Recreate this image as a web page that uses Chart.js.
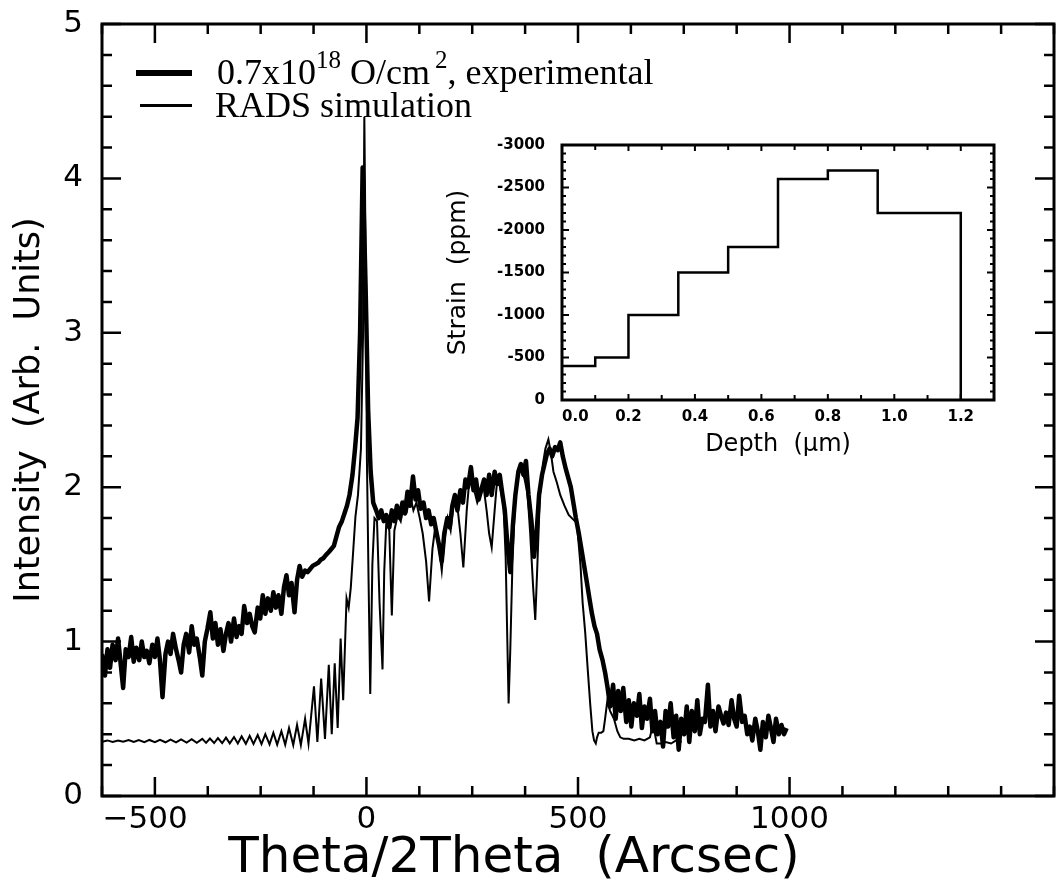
<!DOCTYPE html>
<html>
<head>
<meta charset="utf-8">
<script src="https://cdn.jsdelivr.net/npm/chart.js@4.4.1/dist/chart.umd.min.js"></script>
<style>
  html, body { margin: 0; padding: 0; background: #fff; }
  #wrap { position: relative; width: 1062px; height: 885px; background: #fff; overflow: hidden; }
  #main { position: absolute; left: 0; top: 0; }
  #inset { position: absolute; left: 430px; top: 125px; }
  .legtxt { position: absolute; font-family: 'Liberation Serif', serif; font-size: 36px; line-height: 36px; color: #000; white-space: nowrap; }
  .legtxt .sup { font-size: 25px; position: relative; top: -16px; }
  .legline { position: absolute; background: #000; }
  #xtitle { position: absolute; left: 218px; width: 592px; top: 830px; text-align: center; font-family: 'DejaVu Sans', sans-serif; font-size: 50px; line-height: 50px; color: #000; white-space: pre; }
</style>
</head>
<body>
<div id="wrap">
  <canvas id="main" width="1062" height="885"></canvas>
  <canvas id="inset" width="580" height="340"></canvas>
  <div class="legline" style="left:136px; top:70px; width:56px; height:6px;"></div>
  <div class="legtxt" style="left:217px; top:54px;">0.7x10<span class="sup">18</span> O/cm<span class="sup">&#8201;2</span>, experimental</div>
  <div class="legline" style="left:140px; top:104px; width:52px; height:3px;"></div>
  <div class="legtxt" style="left:215px; top:87px;">RADS simulation</div>
  <div id="xtitle">Theta/2Theta  (Arcsec)</div>
</div>
<script>
// ---------------- data (Theta/2Theta in arcsec, intensity in arb. units) ----------------
const expX = [
  -625,-618,-612,-606,-600,-593,-587,-581,-575,-569,-562,-556,-550,-544,-537,-531,-525,-519,-513,-506,
  -500,-494,-488,-482,-475,-469,-463,-457,-450,-444,-438,-432,-426,-419,-413,-407,-401,-394,-388,-382,
  -376,-369,-363,-357,-351,-345,-338,-332,-326,-320,-313,-307,-301,-295,-289,-282,-276,-270,-264,-257,
  -251,-245,-239,-233,-226,-220,-214,-208,-201,-195,-189,-183,-177,-170,-164,-158,-152,-145,-139,-133,
  -127,-121,-114,-108,-102,-96,-89,-83,-77,-71,-65,-58,-52,-46,-40,-33,-27,-21,-15,-9,
  -2,4,10,16,23,29,35,41,47,54,60,66,72,79,85,91,97,103,110,116,
  122,128,135,141,147,153,159,166,172,178,184,191,197,203,209,215,222,228,234,240,
  247,253,259,265,271,278,284,290,296,303,309,315,321,327,334,340,346,352,359,365,
  371,377,383,390,396,402,408,415,421,427,433,439,446,452,458,464,471,477,483,489,
  495,502,508,514,520,527,533,539,545,551,558,564,570,576,583,589,595,601,607,614,
  620,626,632,639,645,651,657,663,670,676,682,688,695,701,707,713,719,726,732,738,
  744,751,757,763,769,776,782,788,794,800,807,813,819,825,832,838,844,850,856,863,
  869,875,881,888,894,900,906,912,919,925,931,937,944,950,956,962,968,975,981,987,
  993
];
const expY = [
  0.92,0.78,0.95,0.83,0.98,0.88,1.02,0.86,0.70,0.95,0.90,1.03,0.87,0.96,0.88,1.00,0.90,0.94,0.86,0.98,
  0.90,1.02,0.88,0.64,0.92,1.00,0.92,1.05,0.95,0.88,0.80,0.98,1.05,0.93,1.10,0.98,1.02,0.90,0.78,1.00,
  1.08,1.19,1.02,1.12,0.98,1.08,0.94,1.05,1.12,1.00,1.15,1.03,1.10,1.05,1.23,1.12,1.18,1.10,1.06,1.22,
  1.15,1.30,1.18,1.28,1.20,1.32,1.22,1.30,1.18,1.35,1.43,1.30,1.38,1.19,1.40,1.49,1.42,1.46,1.45,1.47,
  1.49,1.50,1.51,1.53,1.54,1.56,1.58,1.60,1.62,1.68,1.74,1.78,1.83,1.88,1.95,2.08,2.25,2.45,3.00,4.07,
  3.30,2.50,2.10,1.90,1.85,1.80,1.85,1.78,1.82,1.74,1.85,1.78,1.88,1.80,1.90,1.83,1.97,1.88,2.07,1.92,
  1.98,1.86,1.90,1.80,1.85,1.76,1.80,1.70,1.62,1.52,1.70,1.80,1.74,1.88,1.95,1.85,1.98,1.90,2.05,2.00,
  2.13,1.98,2.05,1.92,1.98,2.05,1.95,2.08,1.95,2.10,2.02,2.08,1.96,1.85,1.60,1.45,1.75,1.95,2.10,2.15,
  2.08,2.17,1.95,1.78,1.55,1.70,1.95,2.08,2.15,2.22,2.25,2.20,2.26,2.24,2.29,2.20,2.12,2.06,2.00,1.90,
  1.80,1.70,1.60,1.50,1.40,1.28,1.18,1.10,1.05,0.95,0.88,0.80,0.70,0.58,0.72,0.50,0.68,0.55,0.70,0.48,
  0.62,0.45,0.60,0.52,0.66,0.44,0.58,0.50,0.63,0.42,0.55,0.40,0.48,0.32,0.55,0.45,0.60,0.38,0.52,0.30,
  0.50,0.40,0.58,0.35,0.55,0.42,0.62,0.40,0.50,0.48,0.72,0.45,0.55,0.42,0.58,0.52,0.47,0.54,0.46,0.62,
  0.50,0.45,0.65,0.48,0.52,0.40,0.45,0.36,0.50,0.42,0.30,0.48,0.38,0.52,0.44,0.35,0.50,0.40,0.46,0.40,
  0.44
];
const simX = [
  -625,-612,-600,-587,-575,-562,-550,-538,-525,-513,-500,-488,-475,-463,-450,-438,-425,-413,-401,-388,
  -379,-370,-360,-351,-341,-332,-323,-313,-304,-295,-285,-276,-267,-257,-248,-239,-229,-220,-211,-201,-192,-183,-173,-164,-155,-145,
  -137,-124,-116,-107,-98,-89,-82,-75,-68,-61,-55,-47,-42,-37,-31,-26,-20,-13,-8,-5,
  -1,1,5,9,14,19,25,31,38,42,47,54,60,66,74,81,89,96,103,111,
  118,126,133,141,148,156,163,171,178,184,192,199,207,214,222,229,237,245,253,262,
  269,277,284,290,296,303,309,316,324,329,333,336,340,345,351,359,366,374,381,387,
  394,399,404,410,417,423,430,436,442,450,458,468,478,489,497,502,506,511,517,523,
  529,534,538,542,545,549,555,560,564,569,576,585,593,600,608,620,633,645,657,670,
  677,682,686,695,707,720,732,745
];
const simY = [
  0.352,0.360,0.350,0.360,0.351,0.362,0.350,0.362,0.349,0.363,0.349,0.364,0.348,0.365,0.347,0.366,0.346,0.368,0.345,0.370,
  0.344,0.372,0.343,0.375,0.342,0.378,0.341,0.382,0.340,0.386,0.338,0.390,0.337,0.395,0.336,0.400,0.334,0.410,0.333,0.420,0.332,0.440,0.330,0.460,0.330,0.500,
  0.34,0.71,0.35,0.76,0.37,0.85,0.40,0.86,0.44,1.02,0.62,1.28,1.22,1.35,1.60,1.81,1.95,2.25,3.00,4.40,
  3.20,2.20,1.40,0.66,1.50,1.80,1.78,1.25,0.82,1.45,1.78,1.72,1.17,1.72,1.82,1.78,1.90,1.85,1.95,1.85,
  1.90,1.80,1.70,1.52,1.26,1.60,1.75,1.62,1.46,1.65,1.80,1.72,1.92,1.90,1.70,1.48,1.85,2.10,2.00,1.90,
  1.95,2.00,1.85,1.70,1.61,1.85,2.05,2.00,1.88,1.55,1.00,0.60,0.95,1.50,1.90,2.08,2.12,2.05,1.95,1.70,
  1.35,1.14,1.50,1.95,2.15,2.25,2.31,2.22,2.10,2.03,1.95,1.88,1.82,1.79,1.77,1.62,1.49,1.25,1.06,0.82,
  0.59,0.42,0.36,0.34,0.38,0.41,0.41,0.42,0.50,0.61,0.55,0.50,0.42,0.38,0.37,0.37,0.36,0.37,0.36,0.38,
  0.46,0.40,0.34,0.34,0.35,0.34,0.36,0.35
];
const mainXLabels = [-500, 0, 500, 1000];
const mainYLabels = [0, 1, 2, 3, 4, 5];

// ---------------- inset data (depth in um, strain in ppm) ----------------
const depthEdges   = [0, 0.1, 0.2, 0.35, 0.5, 0.65, 0.8, 0.95, 1.2];
const strainValues = [-400, -500, -1000, -1500, -1800, -2600, -2700, -2200, 0];
const insetXLabels = [0, 0.2, 0.4, 0.6, 0.8, 1.0, 1.2];
const insetYLabels = [0, -500, -1000, -1500, -2000, -2500, -3000];

// ---------------- helpers ----------------
function nearIn(v, arr, tol) { return arr.some(a => Math.abs(a - v) < tol); }
function pairs(xs, ys) { return xs.map((x, i) => ({x: x, y: ys[i]})); }

const frameTicks = {
  id: 'frameTicks',
  afterDatasetsDraw(chart, args, o) {
    const ctx = chart.ctx, a = chart.chartArea;
    const xs = chart.scales.x, ys = chart.scales.y;
    ctx.save();
    ctx.strokeStyle = '#000';
    ctx.lineWidth = o.tickWidth;
    ctx.lineCap = 'butt';
    ctx.beginPath();
    xs.ticks.forEach(t => {
      const p = xs.getPixelForValue(t.value);
      const len = nearIn(t.value, o.xMajor, o.xTol) ? o.xLen[0] : o.xLen[1];
      ctx.moveTo(p, a.bottom); ctx.lineTo(p, a.bottom - len);
      ctx.moveTo(p, a.top); ctx.lineTo(p, a.top + len);
    });
    ys.ticks.forEach(t => {
      const p = ys.getPixelForValue(t.value);
      const len = nearIn(t.value, o.yMajor, o.yTol) ? o.yLen[0] : o.yLen[1];
      ctx.moveTo(a.left, p); ctx.lineTo(a.left + len, p);
      ctx.moveTo(a.right, p); ctx.lineTo(a.right - len, p);
    });
    ctx.stroke();
    ctx.lineWidth = o.borderWidth;
    ctx.strokeRect(a.left, a.top, a.right - a.left, a.bottom - a.top);
    ctx.restore();
  }
};

Chart.defaults.color = '#000';
Chart.defaults.font.family = 'DejaVu Sans';

// ---------------- main chart ----------------
new Chart(document.getElementById('main'), {
  type: 'line',
  data: {
    datasets: [
      { label: 'RADS simulation', data: pairs(simX, simY), borderColor: '#000', borderWidth: 2,
        pointRadius: 0, tension: 0, fill: false, borderJoinStyle: 'miter' },
      { label: '0.7x10^18 O/cm^2, experimental', data: pairs(expX, expY), borderColor: '#000', borderWidth: 4.5,
        pointRadius: 0, tension: 0, fill: false, borderJoinStyle: 'round' }
    ]
  },
  options: {
    responsive: false, animation: false, devicePixelRatio: 1,
    layout: { padding: { top: 24, right: 3, left: 0, bottom: 0 } },
    plugins: {
      legend: { display: false }, tooltip: { enabled: false },
      frameTicks: { tickWidth: 2.5, borderWidth: 3, xMajor: mainXLabels, xTol: 1e-6, yMajor: mainYLabels, yTol: 1e-6,
                    xLen: [19, 10], yLen: [19, 10] }
    },
    scales: {
      x: {
        type: 'linear', min: -625, max: 1625,
        grid: { display: false, drawTicks: false }, border: { display: false },
        ticks: { stepSize: 125, autoSkip: false, maxRotation: 0, minRotation: 0, align: 'inner', padding: 8,
                 font: { size: 31, lineHeight: 1 },
                 callback: v => {
                   if (!nearIn(v, mainXLabels, 1e-6)) return '';
                   const r = Math.round(v);
                   return r < 0 ? '\u2212' + Math.abs(r) + '  ' : String(r);
                 } },
        title: { display: false },
        afterFit: s => { s.height = 89; }
      },
      y: {
        type: 'linear', min: 0, max: 5,
        grid: { display: false, drawTicks: false }, border: { display: false },
        ticks: { stepSize: 0.2, autoSkip: false, padding: 19, font: { size: 31, lineHeight: 1 },
                 callback: v => nearIn(v, mainYLabels, 1e-6) ? String(Math.round(v)) : '' },
        title: { display: true, text: 'Intensity  (Arb.  Units)', font: { size: 35, lineHeight: 1 }, padding: { top: 12, bottom: 0 } },
        afterFit: s => { s.width = 102; s.paddingTop = 0; s.paddingBottom = 0; }
      }
    }
  },
  plugins: [frameTicks]
});

// ---------------- inset chart ----------------
new Chart(document.getElementById('inset'), {
  type: 'line',
  data: {
    datasets: [
      { label: 'Strain', data: pairs(depthEdges, strainValues), stepped: 'before', borderColor: '#000', borderWidth: 2.5,
        pointRadius: 0, fill: false }
    ]
  },
  options: {
    responsive: false, animation: false, devicePixelRatio: 1,
    layout: { padding: { top: 20, right: 16, left: 0, bottom: 0 } },
    plugins: {
      legend: { display: false }, tooltip: { enabled: false },
      frameTicks: { tickWidth: 2, borderWidth: 3, xMajor: insetXLabels, xTol: 1e-6, yMajor: insetYLabels, yTol: 1e-6,
                    xLen: [6, 5], yLen: [7, 4] }
    },
    scales: {
      x: {
        type: 'linear', min: 0, max: 1.3,
        grid: { display: false, drawTicks: false }, border: { display: false },
        ticks: { stepSize: 0.1, autoSkip: false, maxRotation: 0, minRotation: 0, align: 'inner', padding: 10,
                 font: { size: 15, weight: 'bold', lineHeight: 1 },
                 callback: v => nearIn(v, insetXLabels, 1e-6) ? Number(v).toFixed(1) : '' },
        title: { display: true, text: 'Depth  (\u03bcm)', font: { size: 24, lineHeight: 1 }, padding: { top: 0, bottom: 8 } },
        afterFit: s => { s.height = 65; }
      },
      y: {
        type: 'linear', min: -3000, max: 0, reverse: true,
        grid: { display: false, drawTicks: false }, border: { display: false },
        ticks: { stepSize: 100, autoSkip: false, padding: 17, font: { size: 15, weight: 'bold', lineHeight: 1 },
                 callback: v => nearIn(v, insetYLabels, 1e-6) ? String(Math.round(v)) : '' },
        title: { display: true, text: 'Strain  (ppm)', font: { size: 25, lineHeight: 1 }, padding: { top: 16, bottom: 0 } },
        afterFit: s => { s.width = 132; s.paddingTop = 0; s.paddingBottom = 0; }
      }
    }
  },
  plugins: [frameTicks]
});
</script>
</body>
</html>
